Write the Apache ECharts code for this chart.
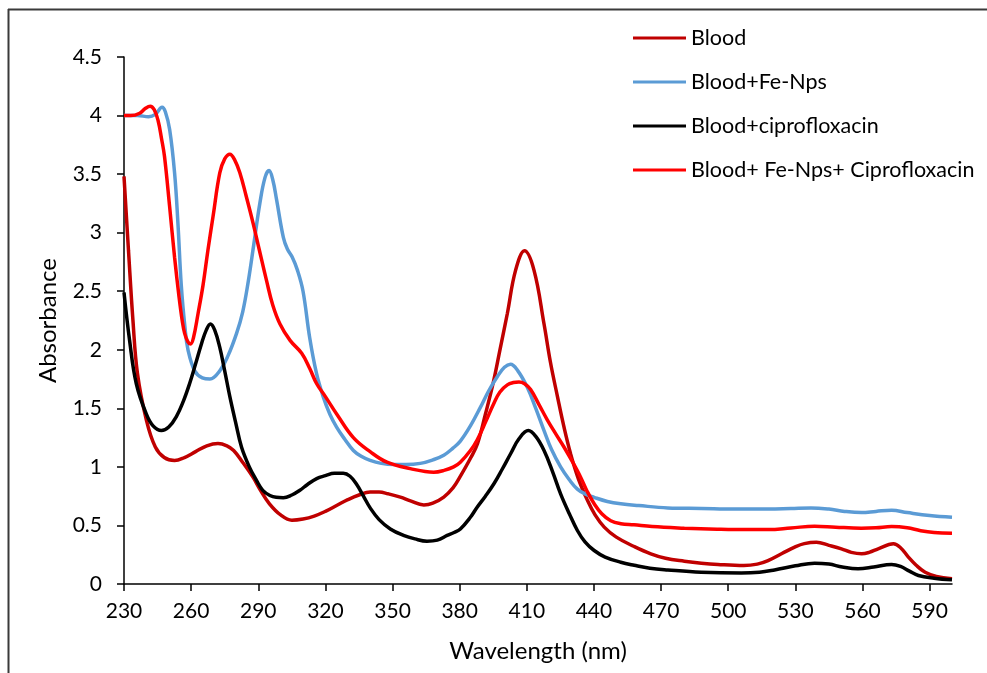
<!DOCTYPE html>
<html>
<head>
<meta charset="utf-8">
<title>Absorbance spectra</title>
<script src="https://cdn.jsdelivr.net/npm/echarts@6/dist/echarts.min.js"></script>
<style>
  html, body { margin: 0; padding: 0; background: #fff; }
  #chart { width: 987px; height: 673px; }
</style>
</head>
<body>
<div id="chart"></div>
<script>
// wavelength (nm) / absorbance pairs
const blood = [
  [230, 3.48], [232, 2.85], [234, 2.25], [236, 1.8], [240, 1.4], [244, 1.17], [248, 1.08],
  [252.6, 1.055], [257, 1.08], [262, 1.13], [267, 1.18], [272, 1.2], [276, 1.18], [279, 1.14],
  [283, 1.04], [287.7, 0.91], [291, 0.8], [295, 0.685], [300, 0.59], [305, 0.545], [310, 0.555],
  [315, 0.58], [320, 0.62], [325, 0.67], [330, 0.72], [335, 0.76], [340, 0.785], [344, 0.785],
  [348, 0.77], [353.5, 0.742], [358, 0.71], [364, 0.675], [368, 0.69], [372.9, 0.742],
  [377, 0.82], [380, 0.91], [385, 1.08], [388, 1.2], [391.5, 1.45], [395, 1.72], [398, 2.0],
  [401.3, 2.31], [405, 2.68], [409, 2.845], [413.2, 2.68], [417.7, 2.22], [420.5, 1.9], [423.7, 1.6],
  [426.5, 1.35], [429.6, 1.11], [433, 0.9], [437.1, 0.714], [440.5, 0.59], [444.6, 0.486], [450, 0.4],
  [458, 0.32], [465.4, 0.258], [472, 0.22], [480.4, 0.195], [488, 0.178], [495.4, 0.167], [507, 0.158],
  [513, 0.17], [517.8, 0.2], [524, 0.26], [529.7, 0.315], [534, 0.345], [539.4, 0.357], [545, 0.33],
  [550.6, 0.3], [555, 0.27], [559.6, 0.258], [563, 0.27], [567, 0.3], [573.8, 0.343], [577, 0.31],
  [580.5, 0.23], [584, 0.16], [588, 0.1], [593, 0.065], [600, 0.044]
];
const bloodFe = [
  [230, 4.0], [236, 4.0], [241, 3.99], [244, 4.01], [247, 4.07], [248.5, 4.03], [250.4, 3.88],
  [252.6, 3.51], [254.1, 3.08], [255.6, 2.55], [257.2, 2.2], [258.6, 2.0], [261.6, 1.82], [265, 1.76],
  [268.4, 1.75], [272.8, 1.82], [276.5, 1.95], [280.3, 2.14], [283, 2.32], [285.5, 2.58], [288, 2.9],
  [290.7, 3.25], [293, 3.47], [294.8, 3.53], [296.5, 3.45], [298.2, 3.28], [301.2, 2.96], [303, 2.86],
  [305.2, 2.79], [307.5, 2.68], [310, 2.5], [313, 2.1], [316, 1.8], [319, 1.6], [322, 1.45], [325, 1.34],
  [328.5, 1.24], [332.5, 1.14], [336, 1.09], [340, 1.055], [345, 1.03], [350.4, 1.02], [356, 1.02],
  [362.4, 1.03], [368, 1.06], [372.9, 1.1], [377, 1.16], [380.3, 1.22], [384.8, 1.35], [389.3, 1.51],
  [393, 1.65], [396.8, 1.77], [400, 1.85], [402.7, 1.876], [406, 1.82], [410.2, 1.68], [414, 1.5],
  [417.7, 1.31], [421, 1.15], [425.1, 1.0], [429, 0.89], [432.6, 0.81], [436, 0.77], [440.1, 0.74],
  [446, 0.705], [452, 0.685], [460, 0.67], [473, 0.65], [488, 0.645], [503, 0.64], [518, 0.64],
  [528, 0.645], [537, 0.65], [545, 0.64], [552, 0.62], [559.6, 0.61], [566, 0.62], [573, 0.63],
  [580, 0.61], [590, 0.585], [600, 0.57]
];
const bloodCipro = [
  [230, 2.49], [232.5, 2.08], [235.5, 1.71], [240, 1.45], [243, 1.35], [246.7, 1.31], [250, 1.34],
  [253.4, 1.43], [256.5, 1.56], [259.3, 1.71], [262, 1.88], [264.6, 2.05], [266.8, 2.17], [268.6, 2.22],
  [270.5, 2.17], [272.8, 2.02], [275, 1.82], [277.3, 1.6], [280, 1.37], [282.5, 1.17], [286, 1.0],
  [289.2, 0.885], [292, 0.8], [295.2, 0.756], [298, 0.74], [301.2, 0.737], [305, 0.76], [308.6, 0.8],
  [312, 0.85], [316.1, 0.9], [320, 0.925], [324, 0.945], [328, 0.945], [331, 0.92], [334, 0.85],
  [337, 0.75], [340, 0.65], [344, 0.55], [349, 0.47], [354.9, 0.415], [360, 0.385],
  [365.4, 0.366], [370, 0.375], [374.4, 0.415], [377.5, 0.44], [380.3, 0.47], [384.8, 0.57],
  [387.8, 0.656], [391.5, 0.75], [395.3, 0.856], [399, 0.98], [402.7, 1.11], [406.5, 1.24], [410.7, 1.31],
  [414, 1.26], [417.7, 1.14], [421.5, 0.96], [425.1, 0.77], [429, 0.6], [432.6, 0.457], [436, 0.36],
  [440.1, 0.286], [445, 0.23], [452, 0.186], [458, 0.16], [465, 0.135], [473, 0.12], [487.9, 0.1],
  [505.8, 0.093], [514, 0.1], [520.7, 0.12], [530, 0.155], [538.6, 0.178], [545, 0.17], [551, 0.145],
  [558, 0.13], [565, 0.145], [573, 0.167], [577, 0.15], [581, 0.11], [585, 0.073], [592, 0.05], [600, 0.036]
];
const bloodFeCipro = [
  [230, 4.0], [233, 4.0], [237, 4.02], [239.5, 4.06], [241.7, 4.08], [243.5, 4.05], [245.2, 3.96],
  [246.8, 3.8], [248.1, 3.65], [250.4, 3.22], [252.6, 2.79], [254.6, 2.45], [256, 2.25], [257.1, 2.14],
  [258.5, 2.07], [259.7, 2.05], [261, 2.1], [263.1, 2.31], [265.3, 2.55], [267.5, 2.85], [269.8, 3.14],
  [272.8, 3.51], [275, 3.63], [277.3, 3.67], [279.5, 3.62], [281.8, 3.51], [284.5, 3.32], [287.7, 3.08],
  [290.5, 2.85], [293.7, 2.59], [296.5, 2.38], [299.7, 2.22], [304.2, 2.08], [309.4, 1.97], [313, 1.84],
  [316.1, 1.71], [320, 1.6], [325.1, 1.45], [332.5, 1.25], [340, 1.13], [347.5, 1.04], [357.9, 0.985],
  [368.4, 0.955], [373, 0.97], [377.3, 1.0], [380.3, 1.04], [384.8, 1.14], [387.8, 1.23], [391.5, 1.38],
  [395.2, 1.54], [398, 1.64], [401.3, 1.7], [404, 1.72], [406.5, 1.725], [409, 1.71], [411.7, 1.66],
  [415.5, 1.53], [419.2, 1.4], [423, 1.28], [426.6, 1.17], [430.5, 1.04], [434.1, 0.91], [437, 0.79],
  [440.1, 0.685], [443.5, 0.6], [447.5, 0.54], [452, 0.515], [457.9, 0.505], [466, 0.49], [480.4, 0.477],
  [495, 0.468], [502.8, 0.465], [517.8, 0.465], [528, 0.478], [538.6, 0.494], [548, 0.485], [559.5, 0.477],
  [566, 0.48], [573, 0.49], [580, 0.48], [586, 0.455], [592, 0.44], [600, 0.434]
];

const seriesNames = ['Blood', 'Blood+Fe-Nps', 'Blood+ciprofloxacin', 'Blood+ Fe-Nps+ Ciprofloxacin'];
const seriesColors = ['#C00000', '#5B9BD5', '#000000', '#FF0000'];
const xTicks = [230, 260, 290, 320, 350, 380, 410, 440, 470, 500, 530, 560, 590];

const font = 'Lato, "Liberation Sans", sans-serif';
const chart = echarts.init(document.getElementById('chart'));

const seriesData = [blood, bloodFe, bloodCipro, bloodFeCipro];

chart.setOption({
  backgroundColor: '#fff',
  animation: false,
  textStyle: { fontFamily: font },
  // outer frame: only the top and left edges fall inside the picture
  graphic: [
    {
      type: 'line',
      shape: { x1: 8, y1: 9.5, x2: 987, y2: 9.5 },
      style: { stroke: '#3a3a3a', lineWidth: 2 },
      silent: true
    },
    {
      type: 'line',
      shape: { x1: 8.5, y1: 9, x2: 8.5, y2: 673 },
      style: { stroke: '#3a3a3a', lineWidth: 2 },
      silent: true
    }
  ],
  legend: {
    orient: 'vertical',
    left: 628,
    top: 22,
    itemWidth: 53,
    itemHeight: 3,
    itemGap: 22,
    icon: 'rect',
    data: seriesNames,
    textStyle: { fontFamily: font, fontSize: 21.5, color: '#000', lineHeight: 22 }
  },
  grid: { left: 124, right: 35, top: 57, bottom: 89 },
  xAxis: {
    type: 'value',
    min: 230,
    max: 600,
    name: 'Wavelength (nm)',
    nameLocation: 'middle',
    nameGap: 55,
    nameTextStyle: { fontFamily: font, fontSize: 24, color: '#000' },
    axisLine: { lineStyle: { color: '#000', width: 1.5 } },
    axisTick: { customValues: xTicks, length: 7, lineStyle: { color: '#000', width: 1.5 } },
    axisLabel: { customValues: xTicks, margin: 17, fontSize: 21, color: '#000', fontFamily: font },
    splitLine: { show: false }
  },
  yAxis: {
    type: 'value',
    min: 0,
    max: 4.5,
    interval: 0.5,
    name: 'Absorbance',
    nameLocation: 'middle',
    nameGap: 64,
    nameTextStyle: { fontFamily: font, fontSize: 24, color: '#000' },
    axisLine: { show: true, lineStyle: { color: '#000', width: 1.5 } },
    axisTick: { show: true, length: 7, lineStyle: { color: '#000', width: 1.5 } },
    axisLabel: { margin: 22, fontSize: 21, color: '#000', fontFamily: font },
    splitLine: { show: false }
  },
  series: seriesNames.map((name, i) => ({
    name: name,
    type: 'line',
    data: seriesData[i],
    smooth: 0.4,
    showSymbol: false,
    symbol: 'none',
    lineStyle: { color: seriesColors[i], width: 3.5 },
    itemStyle: { color: seriesColors[i] },
    z: 2 + i
  }))
});
</script>
</body>
</html>
